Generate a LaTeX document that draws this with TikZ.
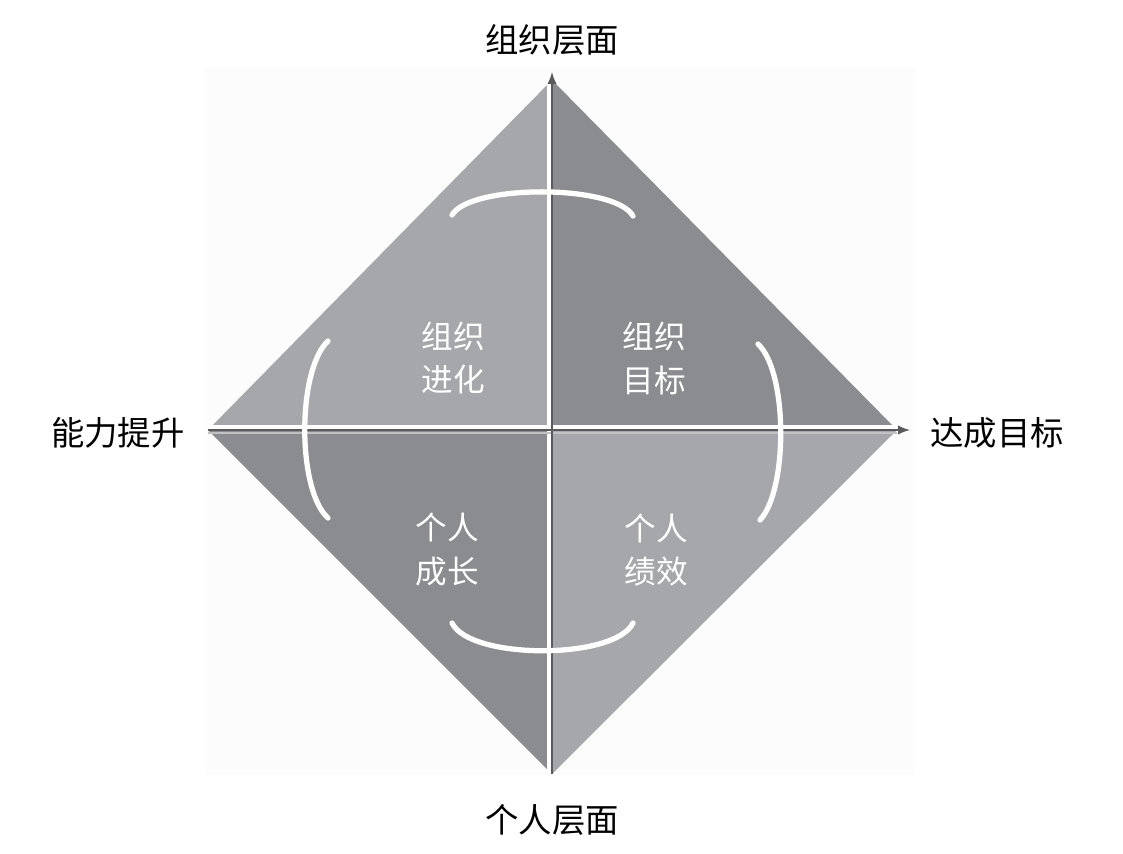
\documentclass[tikz,border=0pt]{standalone}
\usepackage{fontspec}
\setmainfont{Noto Sans CJK SC}
\usepackage{tikz}
\definecolor{lightq}{HTML}{A6A7AA}
\definecolor{darkq}{HTML}{8B8C90}
\definecolor{axisgray}{HTML}{5A5A5E}
\definecolor{paper}{HTML}{FCFCFC}
\tikzset{
  outer/.style={font=\fontsize{19}{24}\selectfont, text=black},
  inner/.style={font=\fontsize{18}{25}\selectfont, text=white, align=center},
  loop/.style={white, line width=3pt, line cap=round},
}
\begin{document}
\begin{tikzpicture}[x=0.02cm, y=-0.02cm]
\useasboundingbox (0,0) rectangle (1123,853);
\fill[paper] (205,67) rectangle (915,775); % faint backdrop
% corners of the diamond
\coordinate (c) at (552,430);
\coordinate (t) at (552,80);
\coordinate (b) at (552,774);
\coordinate (l) at (208,430);
\coordinate (r) at (897,430);
\coordinate (tend) at (552,72);
\coordinate (rend) at (910,430);
% four quadrants
\fill[lightq] (c) -- (l) -- (t) -- cycle;
\fill[darkq] (c) -- (t) -- (r) -- cycle;
\fill[darkq] (c) -- (l) -- (b) -- cycle;
\fill[lightq] (c) -- (r) -- (b) -- cycle;
% axes: white line beside a dark one
\draw[white, line width=2pt] ([xshift=-0.06cm]b) -- ([xshift=-0.06cm]t);
\draw[white, line width=2pt] ([yshift=0.06cm]l) -- ([yshift=0.06cm]r);
\draw[lightq!70!white, line width=1.5pt] ([yshift=-0.06cm]l) -- ([yshift=-0.06cm]r);
\draw[axisgray, line width=1.3pt, -latex] (b) -- (tend);
\draw[axisgray, line width=1.3pt, -latex] (l) -- (rend);
% white loops round the middle
\draw[loop] (452,215) .. controls (470,184) and (615,184) .. (633,216);
\draw[loop] (452,623) .. controls (470,660) and (615,660) .. (633,623);
\draw[loop] (328,341) .. controls (297,370) and (297,490) .. (328,518);
\draw[loop] (758,344) .. controls (788,372) and (788,490) .. (760,520);
% quadrant labels
\node[inner] (jinhua) at (453,358) {组织\\进化};
\node[inner] (mubiao) at (654,358) {组织\\目标};
\node[inner] (chengzhang) at (447,550) {个人\\成长};
\node[inner] (jixiao) at (656,550) {个人\\绩效};
% axis labels
\node[outer] (zuzhi) at (552,40) {组织层面};
\node[outer] (geren) at (552,820) {个人层面};
\node[outer] (nengli) at (118,433) {能力提升};
\node[outer] (dacheng) at (997,433) {达成目标};
\end{tikzpicture}
\end{document}
